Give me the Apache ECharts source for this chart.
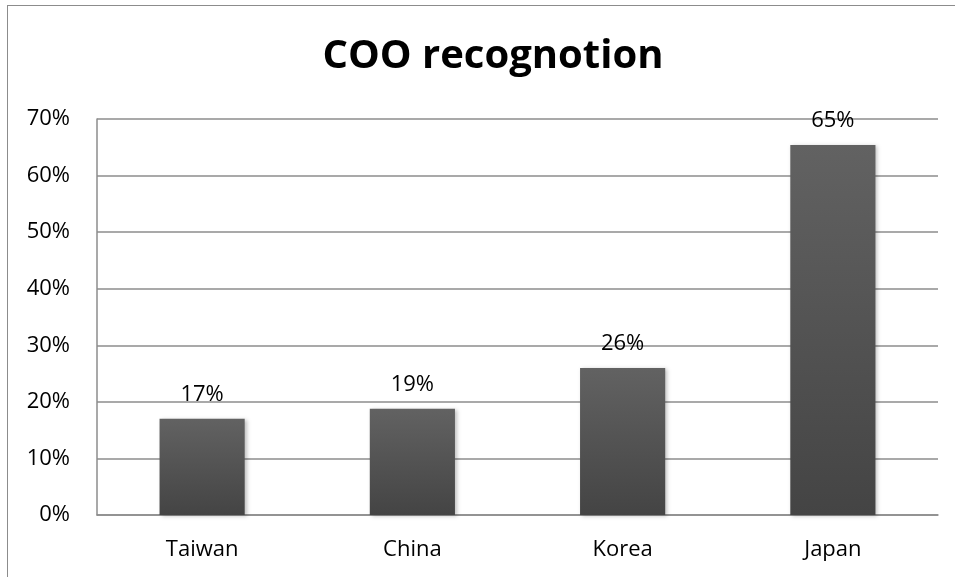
<!DOCTYPE html>
<html>
<head>
<meta charset="utf-8">
<script src="https://cdn.jsdelivr.net/npm/echarts@6/dist/echarts.min.js"></script>
<style>
html,body{margin:0;padding:0;background:#fff;}
#frame{position:absolute;left:7px;top:5px;width:960px;height:590px;border:1.5px solid #8c8c8c;box-sizing:border-box;}
#chart{position:absolute;left:0;top:0;width:955px;height:577px;}
</style>
</head>
<body>
<div id="frame"></div>
<div id="chart"></div>
<script>
var titleText = 'COO recognotion';
var categories = ['Taiwan', 'China', 'Korea', 'Japan'];
var values = [17.0, 18.8, 26.0, 65.4];
var yTicks = { min: 0, max: 70, interval: 10 };

var chart = echarts.init(document.getElementById('chart'), null, { renderer: 'canvas' });
chart.setOption({
  backgroundColor: 'transparent',
  animation: false,
  title: {
    text: titleText,
    left: 488,
    textAlign: 'center',
    top: 32,
    textStyle: { fontFamily: 'Open Sans', fontWeight: 'bold', fontSize: 40, color: '#000' }
  },
  grid: { left: 97, right: 17, top: 119, bottom: 62 },
  xAxis: {
    type: 'category',
    data: categories,
    axisLine: { show: true, lineStyle: { color: '#8c8c8c', width: 1.5 } },
    axisTick: { show: false },
    axisLabel: { fontFamily: 'Open Sans', fontSize: 22, color: '#000', margin: 24 }
  },
  yAxis: {
    type: 'value',
    min: yTicks.min, max: yTicks.max, interval: yTicks.interval,
    axisLine: { show: true, lineStyle: { color: '#8c8c8c', width: 1.5 } },
    axisTick: { show: false },
    splitLine: { lineStyle: { color: '#8c8c8c', width: 1.5 } },
    axisLabel: { fontFamily: 'Open Sans', fontSize: 22, color: '#000', margin: 27, formatter: '{value}%' }
  },
  series: [{
    type: 'bar',
    data: values,
    barWidth: '40.5%',
    itemStyle: {
      color: new echarts.graphic.LinearGradient(0, 0, 0, 1, [
        { offset: 0, color: '#626262' },
        { offset: 1, color: '#444444' }
      ]),
      shadowColor: 'rgba(0,0,0,0.25)',
      shadowBlur: 4,
      shadowOffsetX: 2,
      shadowOffsetY: 1
    },
    label: {
      show: true,
      position: 'top',
      distance: 13,
      fontFamily: 'Open Sans',
      fontSize: 22,
      color: '#000',
      formatter: function (p) { return Math.round(p.value) + '%'; }
    }
  }]
});
</script>
</body>
</html>
